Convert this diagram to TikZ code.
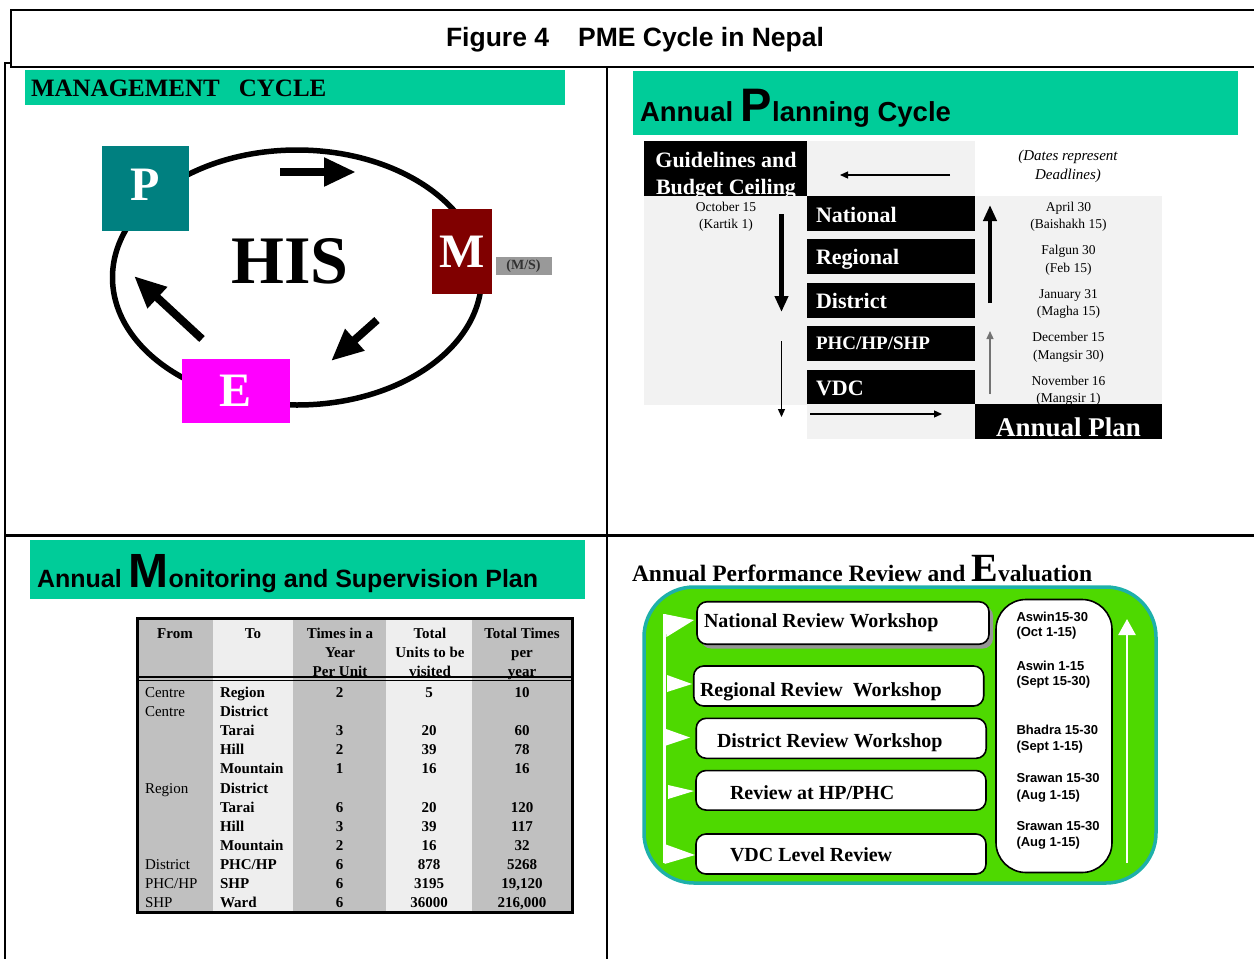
\documentclass[tikz,border=0pt]{standalone}
\usepackage{fontspec}
\setmainfont{Liberation Serif}
\newfontfamily\sansf{Liberation Sans}
\usetikzlibrary{arrows.meta}

\newcommand\fsz[1]{\fontsize{#1}{#1}\selectfont}

\definecolor{hdrgreen}{RGB}{0,204,153}
\definecolor{pteal}{RGB}{0,128,128}
\definecolor{mmaroon}{RGB}{128,0,0}
\definecolor{emag}{RGB}{255,0,255}
\definecolor{msgray}{RGB}{153,153,153}
\definecolor{panelgray}{RGB}{242,242,242}
\definecolor{tabdark}{RGB}{192,192,192}
\definecolor{tablight}{RGB}{238,238,238}
\definecolor{evgreen}{RGB}{78,217,0}
\definecolor{evrim}{RGB}{30,176,170}
\definecolor{shadowgray}{RGB}{150,150,150}

\tikzset{
  every node/.style={inner sep=0pt, outer sep=0pt},
  bar/.style={fill=hdrgreen, anchor=north west},
  letterbox/.style={font=\bfseries\fsz{48}, text=white},
  cyclearrow/.style={line width=8pt, -{Triangle[length=32pt,width=27pt]}},
  blackbox/.style={fill=black, anchor=north west},
  lvltext/.style={anchor=base west, text=white, font=\bfseries\fsz{22}},
  datetext/.style={anchor=base, font=\fsz{13.5}},
  thickarrow/.style={line width=4.5pt, -{Triangle[length=16pt,width=13pt]}},
  thinarrow/.style={line width=1.3pt, -{Triangle[length=8pt,width=7pt]}},
  thdr/.style={anchor=base, font=\bfseries\fsz{15}},
  tfrom/.style={anchor=base west, font=\fsz{15}},
  tto/.style={anchor=base west, font=\bfseries\fsz{15}},
  tnum/.style={anchor=base, font=\bfseries\fsz{15}},
  revbox/.style={draw=black, line width=1.6pt, fill=white, rounded corners=10pt},
  revtext/.style={anchor=base west, font=\bfseries\fsz{20}},
  revdate/.style={anchor=base west, font=\sansf\bfseries\fsz{13}},
}

% one row of the visit table: number, from, to, times, units, total
\newcommand\tabrow[6]{%
  \pgfmathsetmacro\yb{697.5+19.1*(#1-1)}%
  \if\relax\detokenize{#2}\relax\else\node[tfrom] (from#1) at (145,\yb) {#2};\fi
  \node[tto] (to#1) at (220,\yb) {#3};
  \if\relax\detokenize{#4}\relax\else
    \node[tnum] (times#1) at (339.5,\yb) {#4};
    \node[tnum] (units#1) at (429,\yb) {#5};
    \node[tnum] (total#1) at (522,\yb) {#6};
  \fi
}

\begin{document}
\begin{tikzpicture}[x=1pt,y=-1pt]
\useasboundingbox (0,0) rectangle (1254,959);
\fill[white] (0,0) rectangle (1254,959);

% ---------- frame and title
\draw[line width=2.5pt] (1260,10) -- (11,10) -- (11,67) -- (1260,67);
\draw[line width=2pt] (11,63) -- (5,63) -- (5,962);
\draw[line width=2.5pt] (607,67) -- (607,962);
\draw[line width=3pt] (5,535) -- (1260,535);
\node[anchor=base west, font=\sansf\bfseries\fsz{26.5}] (figtitle) at (446,46.5)
  {Figure 4\hspace{29pt}PME Cycle in Nepal};

% ---------- management cycle
\node[bar, minimum width=540pt, minimum height=35pt] (mgbar) at (25,70) {};
\node[anchor=base west, font=\bfseries\fsz{25}] (mgtitle) at (31,96)
  {MANAGEMENT\hspace{19pt}CYCLE};
\draw[line width=5.5pt] (297,277.5) ellipse [x radius=184.5, y radius=127.5];
\node[letterbox, fill=pteal, minimum width=87pt, minimum height=85pt] (P) at (145.5,188.5) {};
\node[letterbox] (Pt) at (145,185) {P};
\node[letterbox, fill=mmaroon, minimum width=60pt, minimum height=85pt] (M) at (462,251.5) {M};
\node[letterbox, fill=emag, minimum width=108pt, minimum height=64pt] (E) at (236,390.5) {E};
\node[fill=msgray, minimum width=56pt, minimum height=18pt, font=\bfseries\fsz{14}, text=black!80]
  (MS) at (523.5,266) {(M/S)};
\node[font=\bfseries\fsz{68}] (HIS) at (290,261) {HIS};
\coordinate (PMa) at (280,172);  \coordinate (PMb) at (356,172);
\coordinate (MEa) at (377,320);  \coordinate (MEb) at (331,361);
\coordinate (EPa) at (202,339);  \coordinate (EPb) at (134,276);
\draw[cyclearrow] (PMa) -- (PMb);
\draw[cyclearrow] (MEa) -- (MEb);
\draw[cyclearrow] (EPa) -- (EPb);

% ---------- annual planning cycle
\node[bar, minimum width=605pt, minimum height=64pt] (plbar) at (633,71) {};
\node[anchor=base west, font=\sansf\bfseries] (pltitle) at (640,121)
  {\fsz{27.5}Annual \fsz{47}P\fsz{27.5}lanning Cycle};
\fill[panelgray] (807,141) rectangle (975,439);
\node[blackbox, minimum width=163pt, minimum height=55pt] (guide) at (644,141) {};
\node[anchor=base, text=white, font=\bfseries\fsz{22}] (guideA) at (726,167) {Guidelines and};
\node[anchor=base, text=white, font=\bfseries\fsz{22}] (guideB) at (726,194) {Budget Ceiling};
\fill[panelgray] (644,196) rectangle (807,405);
\fill[panelgray] (975,196) rectangle (1162,405);

\node[blackbox, minimum width=168pt, minimum height=35pt] (national) at (807,196) {};
\node[blackbox, minimum width=168pt, minimum height=35pt] (regional) at (807,239) {};
\node[blackbox, minimum width=168pt, minimum height=35pt] (district) at (807,283) {};
\node[blackbox, minimum width=168pt, minimum height=35pt] (phc) at (807,326) {};
\node[blackbox, minimum width=168pt, minimum height=34pt] (vdc) at (807,370) {};
\node[lvltext] (nationalT) at (816,222) {National};
\node[lvltext] (regionalT) at (816,264.5) {Regional};
\node[lvltext] (districtT) at (816,308.5) {District};
\node[lvltext, font=\bfseries\fsz{19}] (phcT) at (816,349.5) {PHC/HP/SHP};
\node[lvltext] (vdcT) at (816,395) {VDC};

\node[anchor=base, font=\itshape\fsz{15}] (noteA) at (1068,160) {(Dates represent};
\node[anchor=base, font=\itshape\fsz{15}] (noteB) at (1068,179) {Deadlines)};
\node[datetext] (octA) at (726,211.5) {October 15};
\node[datetext] (octB) at (726,228.5) {(Kartik 1)};
\node[datetext] (d1a) at (1068.5,211.5) {April 30};
\node[datetext] (d1b) at (1068.5,228.5) {(Baishakh 15)};
\node[datetext] (d2a) at (1068.5,254.5) {Falgun 30};
\node[datetext] (d2b) at (1068.5,272.5) {(Feb 15)};
\node[datetext] (d3a) at (1068.5,298.5) {January 31};
\node[datetext] (d3b) at (1068.5,315.5) {(Magha 15)};
\node[datetext] (d4a) at (1068.5,341.5) {December 15};
\node[datetext] (d4b) at (1068.5,359.5) {(Mangsir 30)};
\node[datetext] (d5a) at (1068.5,385.5) {November 16};
\node[datetext] (d5b) at (1068.5,402.5) {(Mangsir 1)};

\node[blackbox, minimum width=187pt, minimum height=35pt] (annual) at (975,404) {};
\begin{scope}
  \clip (975,404) rectangle (1162,438.5);
  \node[anchor=base, text=white, font=\bfseries\fsz{27}] (annualT) at (1068.5,436.5) {Annual Plan};
\end{scope}

\coordinate (ga) at (950,175);   \coordinate (gb) at (840,175);
\coordinate (da) at (781.5,214); \coordinate (db) at (781.5,312);
\coordinate (ea) at (781.5,341); \coordinate (eb) at (781.5,417);
\coordinate (ra) at (810,414);   \coordinate (rb) at (942,414);
\coordinate (ua) at (990,303);   \coordinate (ub) at (990,205);
\coordinate (va) at (990,394);   \coordinate (vb) at (990,331);
\draw[thinarrow] (ga) -- (gb);
\draw[thickarrow] (da) -- (db);
\draw[thinarrow] (ea) -- (eb);
\draw[thinarrow] (ra) -- (rb);
\draw[thickarrow] (ua) -- (ub);
\draw[thinarrow, draw=black!55, fill=black] (va) -- (vb);

% ---------- monitoring and supervision plan
\node[bar, minimum width=555pt, minimum height=59pt] (mobar) at (30,540) {};
\node[anchor=base west, font=\sansf\bfseries] (motitle) at (37,587)
  {\fsz{25}Annual \fsz{48}M\fsz{25}onitoring and Supervision Plan};

\fill[tabdark]  (137,618) rectangle (213,912);
\fill[tablight] (213,618) rectangle (293,912);
\fill[tabdark]  (293,618) rectangle (386,912);
\fill[tablight] (386,618) rectangle (472,912);
\fill[tabdark]  (472,618) rectangle (572,912);

\node[thdr] (hfrom) at (175,638) {From};
\node[thdr] (hto) at (253,638) {To};
\node[thdr] (htimesA) at (340,638) {Times in a};
\node[thdr] (htimesB) at (340,657) {Year};
\node[thdr] (htimesC) at (340,676) {Per Unit};
\node[thdr] (hunitsA) at (430,638) {Total};
\node[thdr] (hunitsB) at (430,657) {Units to be};
\node[thdr] (hunitsC) at (430,676) {visited};
\node[thdr] (htotA) at (522,638) {Total Times};
\node[thdr] (htotB) at (522,657) {per};
\node[thdr] (htotC) at (522,676) {year};

\tabrow{1}{Centre}{Region}{2}{5}{10}
\tabrow{2}{Centre}{District}{}{}{}
\tabrow{3}{}{Tarai}{3}{20}{60}
\tabrow{4}{}{Hill}{2}{39}{78}
\tabrow{5}{}{Mountain}{1}{16}{16}
\tabrow{6}{Region}{District}{}{}{}
\tabrow{7}{}{Tarai}{6}{20}{120}
\tabrow{8}{}{Hill}{3}{39}{117}
\tabrow{9}{}{Mountain}{2}{16}{32}
\tabrow{10}{District}{PHC/HP}{6}{878}{5268}
\tabrow{11}{PHC/HP}{SHP}{6}{3195}{19,120}
\tabrow{12}{SHP}{Ward}{6}{36000}{216,000}

\draw[line width=1.2pt] (137,677) -- (572,677);
\draw[line width=1.2pt] (137,680.5) -- (572,680.5);
\draw[line width=3pt] (137,618) rectangle (572,912);

% ---------- annual performance review and evaluation
\node[anchor=base west, font=\bfseries] (revtitle) at (632,581.5)
  {\fsz{23.5}Annual Performance Review and \fsz{40}E\fsz{23.5}valuation};
\draw[line width=3.5pt, draw=evrim, fill=evgreen, rounded corners=50pt] (644,587) rectangle (1156,883);

\draw[white, line width=2.5pt] (664.5,614) -- (664.5,863);
\fill[white] (664.5,614) -- (694,620) -- (666.5,637) -- cycle;
\fill[white] (667,675) -- (692,684) -- (667,692) -- cycle;
\fill[white] (666,729) -- (690,737.5) -- (666,745.5) -- cycle;
\fill[white] (668,785) -- (694,791) -- (668,799) -- cycle;
\fill[white] (664.5,844) -- (695,855) -- (664.5,864) -- cycle;
\coordinate (upa) at (1127,863); \coordinate (upb) at (1127,619);
\draw[white, line width=2.5pt, -{Triangle[length=16pt,width=17pt]}] (upa) -- (upb);

\fill[shadowgray, rounded corners=10pt] (701,606) rectangle (993,648.5);
\node[revbox, minimum width=292pt, minimum height=42.5pt] (natrev) at (843,623) {};
\node[revbox, minimum width=290pt, minimum height=40pt] (regrev) at (838.7,686) {};
\node[revbox, minimum width=290pt, minimum height=40pt] (disrev) at (841.2,738.3) {};
\node[revbox, minimum width=290pt, minimum height=39.5pt] (hprev) at (841,790.3) {};
\node[revbox, minimum width=290pt, minimum height=40pt] (vdcrev) at (841,854) {};
\node[revbox, rounded corners=30pt, minimum width=116pt, minimum height=273pt] (datebox) at (1054,736) {};

\node[revtext] (natrevT) at (704,627.3) {National Review Workshop};
\node[revtext] (regrevT) at (700,696) {Regional Review\hspace{5pt} Workshop};
\node[revtext] (disrevT) at (717,747.3) {District Review Workshop};
\node[revtext] (hprevT) at (730,799) {Review at HP/PHC};
\node[revtext] (vdcrevT) at (730,861.7) {VDC Level Review};

\node[revdate] (r1a) at (1016.5,621) {Aswin15-30};
\node[revdate] (r1b) at (1016.5,636.7) {(Oct 1-15)};
\node[revdate] (r2a) at (1016.5,670) {Aswin 1-15};
\node[revdate] (r2b) at (1016.5,685.7) {(Sept 15-30)};
\node[revdate] (r3a) at (1016.5,734) {Bhadra 15-30};
\node[revdate] (r3b) at (1016.5,750) {(Sept 1-15)};
\node[revdate] (r4a) at (1016.5,782.7) {Srawan 15-30};
\node[revdate] (r4b) at (1016.5,799) {(Aug 1-15)};
\node[revdate] (r5a) at (1016.5,830.7) {Srawan 15-30};
\node[revdate] (r5b) at (1016.5,846.7) {(Aug 1-15)};
\end{tikzpicture}
\end{document}
